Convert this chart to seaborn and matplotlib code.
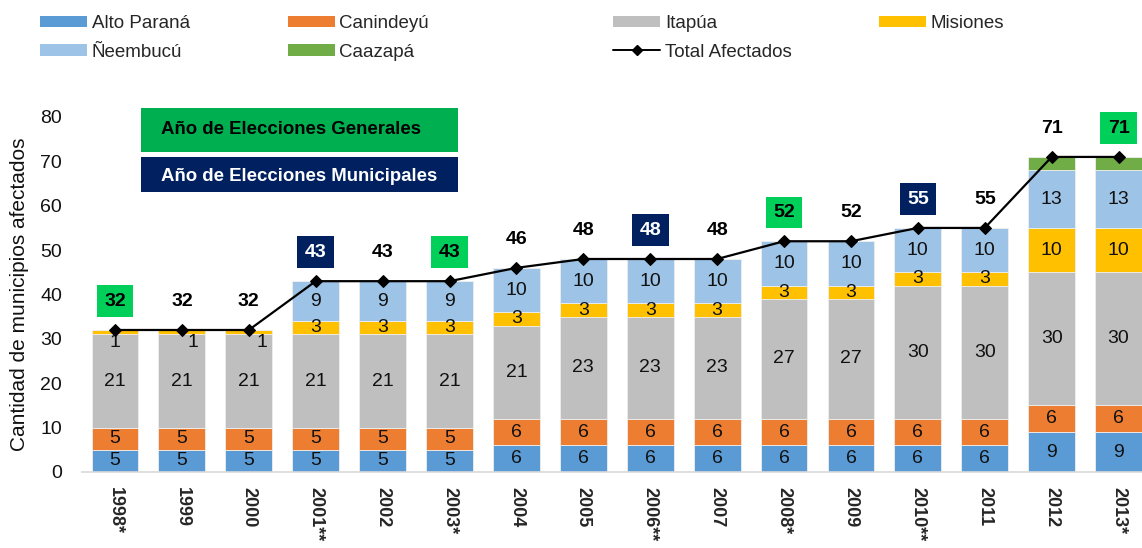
import numpy as np
import pandas as pd
import matplotlib
matplotlib.use("Agg")
import matplotlib.pyplot as plt
from matplotlib.patches import Rectangle
from matplotlib.lines import Line2D
import seaborn as sns

# -----------------------------
# Data
# -----------------------------

years = ["1998*", "1999", "2000", "2001**", "2002", "2003*", "2004", "2005",
         "2006**", "2007", "2008*", "2009", "2010**", "2011", "2012", "2013*"]

alto_parana = [5, 5, 5, 5, 5, 5, 6, 6, 6, 6, 6, 6, 6, 6, 9, 9]
canindeyu = [5, 5, 5, 5, 5, 5, 6, 6, 6, 6, 6, 6, 6, 6, 6, 6]
itapua = [21, 21, 21, 21, 21, 21, 21, 23, 23, 23, 27, 27, 30, 30, 30, 30]
misiones = [1, 1, 1, 3, 3, 3, 3, 3, 3, 3, 3, 3, 3, 3, 10, 10]
neembucu = [0, 0, 0, 9, 9, 9, 10, 10, 10, 10, 10, 10, 10, 10, 13, 13]
caazapa = [0, 0, 0, 0, 0, 0, 0, 0, 0, 0, 0, 0, 0, 0, 3, 3]
total = [32, 32, 32, 43, 43, 43, 46, 48, 48, 48, 52, 52, 55, 55, 71, 71]

# G = general elections, M = municipal elections
election = ["G", "", "", "M", "", "G", "", "", "M", "", "G", "", "M", "", "", "G"]

series_names = ["Alto Paraná", "Canindeyú", "Itapúa", "Misiones", "Ñeembucú", "Caazapá"]
series_colors = ["#5B9BD5", "#ED7D31", "#BFBFBF", "#FFC000", "#9DC3E6", "#70AD47"]

df = pd.DataFrame({
    "Año": years,
    "Alto Paraná": alto_parana,
    "Canindeyú": canindeyu,
    "Itapúa": itapua,
    "Misiones": misiones,
    "Ñeembucú": neembucu,
    "Caazapá": caazapa,
    "Total": total,
})

# -----------------------------
# Style
# -----------------------------

sns.set_theme(style="white")
plt.rcParams["font.family"] = ["Liberation Sans", "DejaVu Sans"]

fig = plt.figure(figsize=(11.42, 5.48), dpi=100)
ax = fig.add_axes([0.0714, 0.1387, 0.9286, 0.6478])

x = np.arange(len(df))
bar_w = 0.70

# -----------------------------
# Stacked bars
# -----------------------------

bottom = np.zeros(len(df))
for name, color in zip(series_names, series_colors):
    vals = df[name].to_numpy(dtype=float)
    ax.bar(x, vals, bar_w, bottom=bottom, color=color, edgecolor="#EEEEEE",
           linewidth=0.6, label=name, zorder=2)
    if name != "Caazapá":
        for i, v in enumerate(vals):
            if v <= 0:
                continue
            if v < 2:
                # small Misiones segment: label sits just below it
                dx = [0, 0.16, 0.2][i] if i < 3 else 0
                ax.text(x[i] + dx, bottom[i] - 1.8, f"{int(v)}", ha="center",
                        va="center", fontsize=14, color="#111111", zorder=4)
            else:
                ax.text(x[i], bottom[i] + v / 2, f"{int(v)}", ha="center",
                        va="center", fontsize=14, color="#111111", zorder=4)
    bottom += vals

# -----------------------------
# Total line
# -----------------------------

sns.lineplot(x=x, y=df["Total"], ax=ax, color="black", linewidth=1.6,
             marker="D", markersize=6, markeredgecolor="black", zorder=5,
             legend=False)

for i, t in enumerate(df["Total"]):
    kind = election[i]
    if kind == "G":
        ax.text(x[i], t + 6.5, str(t), ha="center", va="center", fontsize=14,
                fontweight="bold", color="black", zorder=6,
                bbox=dict(boxstyle="square,pad=0.38", fc="#00D05A", ec="none"))
    elif kind == "M":
        ax.text(x[i], t + 6.5, str(t), ha="center", va="center", fontsize=14,
                fontweight="bold", color="white", zorder=6,
                bbox=dict(boxstyle="square,pad=0.38", fc="#002060", ec="none"))
    else:
        ax.text(x[i], t + 6.5, str(t), ha="center", va="center", fontsize=14,
                fontweight="bold", color="black", zorder=6)

# -----------------------------
# Election key boxes
# -----------------------------

ax.add_patch(Rectangle((0.39, 72.1), 4.74, 9.9, fc="#00B050", ec="none",
                       clip_on=False, zorder=3))
ax.add_patch(Rectangle((0.39, 63.1), 4.74, 7.9, fc="#002060", ec="none",
                       clip_on=False, zorder=3))
ax.text(0.69, 77.1, "Año de Elecciones Generales", ha="left", va="center",
        fontsize=13.4, fontweight="bold", color="black", zorder=4)
ax.text(0.69, 66.6, "Año de Elecciones Municipales", ha="left", va="center",
        fontsize=13.4, fontweight="bold", color="white", zorder=4)

# -----------------------------
# Axes
# -----------------------------

ax.set_xlim(-0.5, 15.35)
ax.set_ylim(0, 80)
ax.set_yticks(range(0, 81, 10))
ax.tick_params(axis="y", length=0, pad=14, labelsize=14, labelcolor="#111111")
ax.set_xticks(x)
ax.set_xticklabels(years, rotation=-90, fontsize=13, fontweight="bold",
                   va="top", ha="center")
ax.tick_params(axis="x", length=0, pad=11)
ax.set_xlabel("")
ax.set_ylabel("Cantidad de municipios afectados", fontsize=15, color="#111111")
ax.yaxis.set_label_coords(-0.050, 0.5)

for side in ["left", "right", "top"]:
    ax.spines[side].set_visible(False)
ax.spines["bottom"].set_color("#D9D9D9")
ax.spines["bottom"].set_linewidth(1.2)
ax.grid(False)

# -----------------------------
# Legend: one column per legend so positions match the original
# -----------------------------

patches = {n: plt.Rectangle((0, 0), 1, 1, fc=c, ec="none")
           for n, c in zip(series_names, series_colors)}
line_handle = Line2D([], [], color="black", linewidth=1.4, marker="D",
                     markersize=5)
columns = [
    (0.035, [("Alto Paraná", patches["Alto Paraná"]), ("Ñeembucú", patches["Ñeembucú"])]),
    (0.252, [("Canindeyú", patches["Canindeyú"]), ("Caazapá", patches["Caazapá"])]),
    (0.537, [("Itapúa", patches["Itapúa"]), ("Total Afectados", line_handle)]),
    (0.770, [("Misiones", patches["Misiones"])]),
]

for xpos, items in columns:
    fig.legend([h for _, h in items], [l for l, _ in items], ncol=1,
               loc="upper left", bbox_to_anchor=(xpos, 0.972), frameon=False,
               fontsize=13.5, handlelength=2.5, handleheight=0.55,
               handletextpad=0.25, labelspacing=0.6,
               borderpad=0, borderaxespad=0)

plt.savefig("out.png", dpi=100)
